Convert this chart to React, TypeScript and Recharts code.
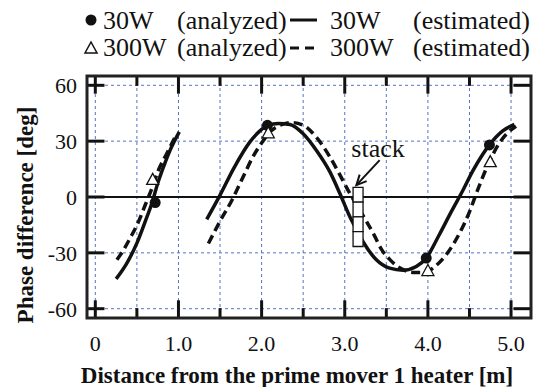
import React from 'react';
import {
  ComposedChart,
  Line,
  Scatter,
  XAxis,
  YAxis,
  CartesianGrid,
  ReferenceLine,
  ReferenceArea,
  ReferenceDot,
} from 'recharts';

// axis ticks
const xTicks = [0, 0.5, 1, 1.5, 2, 2.5, 3, 3.5, 4, 4.5, 5];
const yTicks = [-60, -30, 0, 30, 60];
const xMajor = [0, 1, 2, 3, 4, 5];
const xMinor = [0.5, 1.5, 2.5, 3.5, 4.5];

// 30W estimated (solid)
const est30W = [
  { x: 0.25, y: -44 }, { x: 0.38, y: -35.5 }, { x: 0.5, y: -24.8 }, { x: 0.6, y: -13.2 },
  { x: 0.68, y: -3.4 }, { x: 0.75, y: 7.3 }, { x: 0.82, y: 16.2 }, { x: 0.9, y: 25.2 },
  { x: 1.01, y: 35 },
  { x: 1.2, y: null },
  { x: 1.34, y: -12 }, { x: 1.5, y: 1 }, { x: 1.66, y: 15 }, { x: 1.86, y: 29.6 },
  { x: 1.98, y: 35.5 }, { x: 2.08, y: 38.6 }, { x: 2.2, y: 39.5 }, { x: 2.34, y: 39 },
  { x: 2.5, y: 34 }, { x: 2.66, y: 25 }, { x: 2.82, y: 13.6 }, { x: 2.94, y: 2 },
  { x: 3.06, y: -10.5 }, { x: 3.16, y: -19 }, { x: 3.22, y: -24 }, { x: 3.38, y: -33.7 },
  { x: 3.54, y: -38.2 }, { x: 3.7, y: -39.3 }, { x: 3.86, y: -37.3 }, { x: 3.98, y: -32.8 },
  { x: 4.14, y: -20 }, { x: 4.28, y: -8 }, { x: 4.42, y: 3.5 }, { x: 4.54, y: 14 },
  { x: 4.66, y: 23 }, { x: 4.74, y: 28 }, { x: 4.9, y: 35.5 }, { x: 5.04, y: 39 },
];

// 300W estimated (dashed)
const est300W = [
  { x: 0.26, y: -33.7 }, { x: 0.34, y: -28.4 }, { x: 0.42, y: -22 }, { x: 0.52, y: -13.2 },
  { x: 0.6, y: -4.3 }, { x: 0.68, y: 4.6 }, { x: 0.76, y: 14.5 }, { x: 0.86, y: 23.4 },
  { x: 0.98, y: 34 },
  { x: 1.2, y: null },
  { x: 1.36, y: -25 }, { x: 1.5, y: -13 }, { x: 1.64, y: -2 }, { x: 1.78, y: 11 },
  { x: 1.9, y: 22 }, { x: 2.0, y: 29 }, { x: 2.1, y: 35 }, { x: 2.22, y: 38.5 },
  { x: 2.36, y: 40 }, { x: 2.5, y: 38.6 }, { x: 2.66, y: 32 }, { x: 2.82, y: 21.6 },
  { x: 2.94, y: 12 }, { x: 3.06, y: 2 }, { x: 3.16, y: -5.5 }, { x: 3.26, y: -13 },
  { x: 3.36, y: -21 }, { x: 3.44, y: -28 }, { x: 3.54, y: -33.5 }, { x: 3.66, y: -38 },
  { x: 3.82, y: -40.5 }, { x: 3.96, y: -40.5 }, { x: 4.08, y: -37.5 }, { x: 4.22, y: -31 },
  { x: 4.38, y: -19.5 }, { x: 4.5, y: -8 }, { x: 4.6, y: 4 }, { x: 4.7, y: 15 },
  { x: 4.86, y: 29 }, { x: 4.96, y: 34.5 }, { x: 5.06, y: 38 },
];

// analyzed points
const ana30W = [
  { x: 0.72, y: -3 }, { x: 2.07, y: 38.5 }, { x: 3.98, y: -32.8 }, { x: 4.74, y: 28 },
];
const ana300W = [
  { x: 0.69, y: 9.5 }, { x: 2.08, y: 34.5 }, { x: 4.0, y: -39.5 }, { x: 4.75, y: 19 },
];

// stack (4 cells)
const stackX = [3.1, 3.22];
const stackEdges = [5.2, -2.75, -10.7, -18.65, -26.6];
const arrowFrom = { x: 3.42, y: 19.8 };
const arrowTo = { x: 3.14, y: 6.4 };

const X_DOMAIN: [number, number] = [-0.1, 5.24];
const Y_DOMAIN: [number, number] = [-65, 65];
const SERIF = "'Times New Roman', 'Liberation Serif', 'DejaVu Serif', serif";
const GRID_BLUE = '#5573c8';

const Triangle = (props: any) => {
  const { cx, cy } = props;
  if (cx == null || cy == null) return null;
  return (
    <polygon
      points={`${cx},${cy - 6} ${cx - 6},${cy + 5} ${cx + 6},${cy + 5}`}
      fill="#fff"
      stroke="#111"
      strokeWidth={1.3}
    />
  );
};

const Circle = (props: any) => {
  const { cx, cy } = props;
  if (cx == null || cy == null) return null;
  return <circle cx={cx} cy={cy} r={5.5} fill="#111" />;
};

const Arrow = (props: any) => {
  const { x1, y1, x2, y2 } = props;
  const a = Math.atan2(y2 - y1, x2 - x1);
  const l = 11;
  const p1 = [x2 - l * Math.cos(a - 0.45), y2 - l * Math.sin(a - 0.45)];
  const p2 = [x2 - l * Math.cos(a + 0.45), y2 - l * Math.sin(a + 0.45)];
  return (
    <g>
      <line x1={x1} y1={y1} x2={x2} y2={y2} stroke="#111" strokeWidth={2} />
      <polyline
        points={`${p1[0]},${p1[1]} ${x2},${y2} ${p2[0]},${p2[1]}`}
        fill="none"
        stroke="#111"
        strokeWidth={2}
      />
    </g>
  );
};

const fmtX = (v: number) => (v === 0 ? '0' : Number.isInteger(v) ? v.toFixed(1) : '');

const legendText = { fontFamily: SERIF, fontSize: 26, fill: '#111' };

export default function App() {
  const yMajorLen = 9.5; // deg
  const yMinorLen = 5.3;
  const xTickLen = 0.21; // m

  return (
    <div style={{ position: 'absolute', left: 0, top: 0, fontFamily: SERIF }}>
      <ComposedChart
        width={534}
        height={387}
        margin={{ top: 76, right: 3, bottom: 0, left: 0 }}
      >
        <CartesianGrid stroke={GRID_BLUE} strokeDasharray="3 3" strokeWidth={1} />
        <XAxis
          type="number"
          dataKey="x"
          domain={X_DOMAIN}
          ticks={xTicks}
          interval={0}
          tickFormatter={fmtX}
          axisLine={false}
          tickLine={false}
          tickSize={0}
          tickMargin={17}
          height={69}
          tick={{ fill: '#111', fontSize: 22, fontFamily: SERIF }}
          allowDataOverflow
        />
        <YAxis
          type="number"
          domain={Y_DOMAIN}
          ticks={yTicks}
          interval={0}
          axisLine={false}
          tickLine={false}
          tickSize={0}
          tickMargin={10}
          width={87}
          tick={{ fill: '#111', fontSize: 22, fontFamily: SERIF }}
          allowDataOverflow
        />

        <ReferenceLine y={0} stroke="#111" strokeWidth={2} />

        {xMajor.map((t) => (
          <ReferenceLine key={`xt${t}`} segment={[{ x: t, y: 65 }, { x: t, y: 65 - yMajorLen }]} stroke="#111" strokeWidth={3} />
        ))}
        {xMajor.map((t) => (
          <ReferenceLine key={`xb${t}`} segment={[{ x: t, y: -65 }, { x: t, y: -65 + yMajorLen }]} stroke="#111" strokeWidth={3} />
        ))}
        {xMinor.map((t) => (
          <ReferenceLine key={`mt${t}`} segment={[{ x: t, y: 65 }, { x: t, y: 65 - yMinorLen }]} stroke="#111" strokeWidth={3} />
        ))}
        {xMinor.map((t) => (
          <ReferenceLine key={`mb${t}`} segment={[{ x: t, y: -65 }, { x: t, y: -65 + yMinorLen }]} stroke="#111" strokeWidth={3} />
        ))}
        {yTicks.map((t) => (
          <ReferenceLine key={`yl${t}`} segment={[{ x: X_DOMAIN[0], y: t }, { x: X_DOMAIN[0] + xTickLen, y: t }]} stroke="#111" strokeWidth={3} />
        ))}
        {yTicks.map((t) => (
          <ReferenceLine key={`yr${t}`} segment={[{ x: X_DOMAIN[1], y: t }, { x: X_DOMAIN[1] - xTickLen, y: t }]} stroke="#111" strokeWidth={3} />
        ))}

        <Line
          data={est30W}
          dataKey="y"
          type="monotone"
          stroke="#111"
          strokeWidth={3.5}
          dot={false}
          activeDot={false}
          connectNulls={false}
          isAnimationActive={false}
        />
        <Line
          data={est300W}
          dataKey="y"
          type="monotone"
          stroke="#111"
          strokeWidth={3.5}
          strokeDasharray="9 5"
          dot={false}
          activeDot={false}
          connectNulls={false}
          isAnimationActive={false}
        />

        {stackEdges.slice(0, -1).map((top, i) => (
          <ReferenceArea
            key={`cell${i}`}
            x1={stackX[0]}
            x2={stackX[1]}
            y1={stackEdges[i + 1]}
            y2={top}
            fill="#fff"
            fillOpacity={1}
            stroke="#111"
            strokeWidth={1.3}
            zIndex={1500}
          />
        ))}

        <Scatter data={ana30W} dataKey="y" shape={Circle} isAnimationActive={false} zIndex={1600} />
        <Scatter data={ana300W} dataKey="y" shape={Triangle} isAnimationActive={false} zIndex={1600} />

        <ReferenceLine segment={[arrowFrom, arrowTo]} shape={Arrow} zIndex={1700} />
        <ReferenceDot
          x={3.4}
          y={26.5}
          r={1}
          fill="none"
          stroke="none"
          label={{ value: 'stack', position: 'center', fontSize: 26, fill: '#111', fontFamily: SERIF }}
        />

        <ReferenceArea
          x1={X_DOMAIN[0]}
          x2={X_DOMAIN[1]}
          y1={Y_DOMAIN[0]}
          y2={Y_DOMAIN[1]}
          fill="none"
          stroke="#222"
          strokeWidth={3}
          zIndex={1800}
        />

        {/* legend */}
        <g>
          <circle cx={91} cy={20} r={5.5} fill="#111" />
          <text x={103} y={29} style={legendText}>30W</text>
          <text x={177} y={29} style={legendText}>(analyzed)</text>
          <line x1={290} y1={20} x2={317} y2={20} stroke="#111" strokeWidth={3} />
          <text x={330} y={29} style={legendText}>30W</text>
          <text x={413} y={29} style={legendText}>(estimated)</text>

          <polygon points="91,42 85,53 97,53" fill="#fff" stroke="#111" strokeWidth={1.5} />
          <text x={103} y={56} style={legendText}>300W</text>
          <text x={177} y={56} style={legendText}>(analyzed)</text>
          <line x1={290} y1={48} x2={317} y2={48} stroke="#111" strokeWidth={3} strokeDasharray="9 6" />
          <text x={330} y={56} style={legendText}>300W</text>
          <text x={413} y={56} style={legendText}>(estimated)</text>
        </g>

        {/* axis titles */}
        <text
          x={297}
          y={383}
          textAnchor="middle"
          style={{ fontFamily: SERIF, fontWeight: 'bold', fontSize: 23, fill: '#111' }}
        >
          Distance from the prime mover 1 heater [m]
        </text>
        <text
          x={33}
          y={215}
          transform="rotate(-90 33 215)"
          textAnchor="middle"
          style={{ fontFamily: SERIF, fontWeight: 'bold', fontSize: 23, fill: '#111' }}
        >
          Phase difference [deg]
        </text>
      </ComposedChart>
    </div>
  );
}
